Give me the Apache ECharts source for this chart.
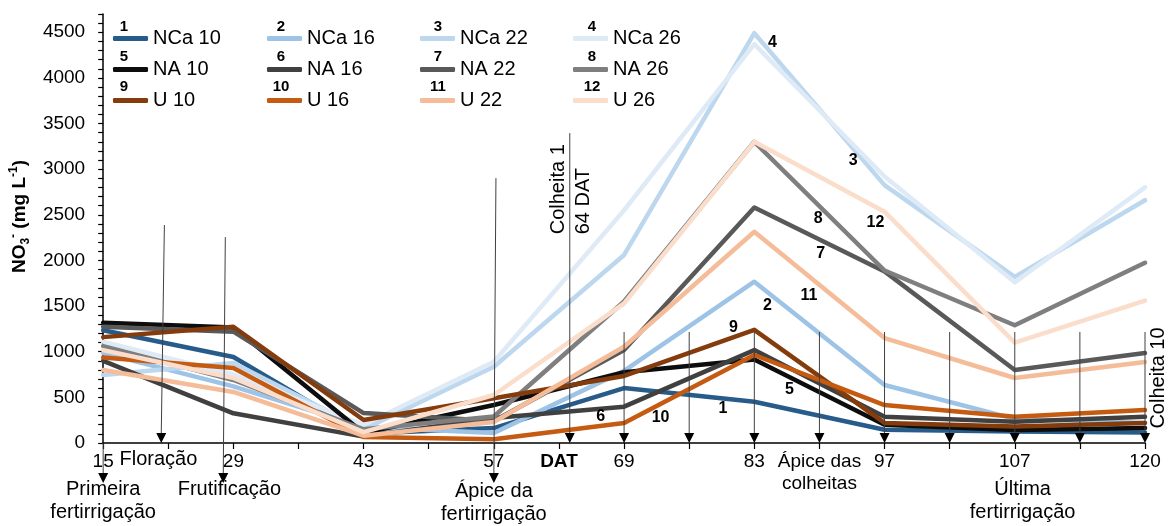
<!DOCTYPE html>
<html>
<head>
<meta charset="utf-8">
<script src="https://cdn.jsdelivr.net/npm/echarts@6/dist/echarts.min.js"></script>
<style>
html,body{margin:0;padding:0;background:#fff;}
#chart{width:1173px;height:526px;}
</style>
</head>
<body>
<div id="chart"></div>
<script>
// days after transplanting (DAT), one value per sampling date
var days=['15','29','43','57','69','83','97','107','120'];

var nca10=[1235,942,100,164,602,452,145,125,115];
var nca16=[985,620,175,110,790,1767,635,265,220];
var nca22=[745,876,150,836,2060,4490,2825,1820,2660];
var nca26=[1110,750,200,890,2550,4370,2920,1760,2800];
var na10=[1318,1265,110,416,775,915,200,142,165];
var na16=[900,325,70,274,398,1018,288,234,288];
var na22=[1274,1220,328,240,1018,2580,1880,800,985];
var na26=[1062,690,150,290,1550,3300,1890,1290,1975];
var u10=[1160,1274,252,490,735,1240,220,180,220];
var u16=[938,821,66,40,220,964,416,288,361];
var u22=[800,559,80,230,1055,2314,1150,712,887];
var u26=[1018,712,120,526,1530,3300,2534,1099,1560];

var seriesNames=['NCa 10','NCa 16','NCa 22','NCa 26','NA 10','NA 16','NA 22','NA 26','U 10','U 16','U 22','U 26'];
var seriesValues=[nca10,nca16,nca22,nca26,na10,na16,na22,na26,u10,u16,u22,u26];
var colors=['#275B8A','#9DC3E6','#BDD7EE','#DEEBF7','#0D0D0D','#404040','#595959','#7F7F7F','#843C0C','#C55A11','#F5BC99','#FADDCB'];

// number tags on the lines: [text, x (category index), y (mg/L)]
var lineTags=[['4',5.14,4392],['3',5.76,3090],['12',5.93,2410],['8',5.49,2464],['7',5.51,2070],
  ['11',5.42,1620],['2',5.10,1500],['9',4.84,1260],['5',5.27,580],['1',4.76,380],['6',3.82,285],['10',4.28,274]];

// arrows: [x top, y top, x tip, y tip] in axis units
var arrows=[[0,0,0,-438],[0.47,2388,0.446,0],[0.938,2256,0.922,-438],[3.016,2902,3,-438],[3.583,3395,3.583,0],
  [4,1216,4,0],[4.5,1216,4.5,0],[5,1216,5,0],[5.5,1216,5.5,0],[6,1216,6,0],[6.5,1216,6.5,0],[7,1216,7,0],[7.5,1216,7.5,0],[8,1216,8,0]];

var font='"Liberation Sans", Arial, sans-serif';

var chart=echarts.init(document.getElementById('chart'));

var series=seriesNames.map(function(n,k){
    return {
        name:n,type:'line',symbol:'none',showSymbol:false,
        color:colors[k],
        lineStyle:{width:4.5,color:colors[k],cap:'round',join:'round'},
        itemStyle:{color:colors[k]},
        data:seriesValues[k].map(function(v,i){return [i,v];})
    };
});

var legendCols=[[0,4,8],[1,5,9],[2,6,10],[3,7,11]];
var legendLeft=[113,267,420,573];
var legends=legendCols.map(function(c,k){
    return {
        orient:'vertical',left:legendLeft[k],top:28,padding:0,itemGap:10,
        itemWidth:35,itemHeight:5,icon:'roundRect',selectedMode:false,
        itemStyle:{borderWidth:0},
        data:c.map(function(i){return seriesNames[i];}),
        textStyle:{fontSize:20,lineHeight:21,color:'#000',fontFamily:font}
    };
});

var option={
    animation:false,
    backgroundColor:'#fff',
    grid:{left:101.7,right:28,top:14,bottom:83},
    legend:legends,
    xAxis:{
        type:'value',min:0,max:8,interval:0.5,
        axisLine:{show:true,onZero:false,lineStyle:{color:'#000',width:1.5}},
        axisTick:{show:true,length:6,lineStyle:{color:'#000',width:1.2}},
        splitLine:{show:false},
        axisLabel:{
            fontSize:19,color:'#000',fontFamily:font,margin:8,lineHeight:22,
            formatter:function(v){
                var r=Math.round(v);
                if(Math.abs(v-r)<1e-6) return days[r];
                if(Math.abs(v-3.5)<1e-6) return '{b|DAT}';
                if(Math.abs(v-5.5)<1e-6) return 'Ápice das\ncolheitas';
                return '';
            },
            rich:{b:{fontWeight:'bold',fontSize:19,fontFamily:font,color:'#000'}}
        }
    },
    yAxis:{
        type:'value',min:0,max:4700,interval:100,
        name:'{a|NO}{sub|3}{sup|-}{a| (mg L}{sup|-1}{a|)}',
        nameLocation:'middle',nameRotate:90,nameGap:68,
        nameTextStyle:{
            fontWeight:'bold',fontSize:19,color:'#000',fontFamily:font,padding:[0,0,0,24],
            rich:{
                a:{fontSize:19,fontWeight:'bold',lineHeight:24,fontFamily:font,color:'#000'},
                sub:{fontSize:12,fontWeight:'bold',lineHeight:12,verticalAlign:'bottom',fontFamily:font,color:'#000'},
                sup:{fontSize:12,fontWeight:'bold',lineHeight:12,verticalAlign:'top',fontFamily:font,color:'#000'}
            }
        },
        axisLine:{show:true,lineStyle:{color:'#000',width:1.5}},
        axisTick:{show:true,length:5,lineStyle:{color:'#000',width:1.2}},
        splitLine:{show:false},
        axisLabel:{
            fontSize:19,color:'#000',fontFamily:font,margin:18,
            formatter:function(v){return v%500===0?String(v):'';}
        }
    },
    series:series
};
chart.setOption(option);

function px(i,v){return chart.convertToPixel({xAxisIndex:0,yAxisIndex:0},[i,v]);}

var g=[];
arrows.forEach(function(a){
    var p1=px(a[0],a[1]),p2=px(a[2],a[3]);
    g.push({type:'line',z:100,shape:{x1:p1[0],y1:p1[1],x2:p2[0],y2:p2[1]-8},style:{stroke:'#404040',lineWidth:1}});
    g.push({type:'polygon',z:101,shape:{points:[[p2[0]-5,p2[1]-10],[p2[0]+5,p2[1]-10],[p2[0],p2[1]]]},style:{fill:'#000'}});
});

lineTags.forEach(function(t){
    var p=px(t[1],t[2]);
    g.push({type:'text',z:102,x:p[0],y:p[1],style:{text:t[0],fontSize:16,fontWeight:'bold',fontFamily:font,fill:'#000',align:'center',verticalAlign:'middle'}});
});

// numbers over the legend swatches
var legendNumX=[124,281,438,592],legendNumY=[27,57,87];
legendCols.forEach(function(c,k){
    c.forEach(function(si,r){
        g.push({type:'text',z:102,x:legendNumX[k],y:legendNumY[r],style:{text:String(si+1),fontSize:15,fontWeight:'bold',fontFamily:font,fill:'#000',align:'center',verticalAlign:'middle'}});
    });
});

// stage notes under the axis: [text, x index, top pixel]
var notes=[['Floração',0.424,448],['Primeira\nfertirrigação',0,478],['Frutificação',0.969,478],
  ['Ápice da\nfertirrigação',3,480],['Última\nfertirrigação',7.06,478]];
notes.forEach(function(n){
    var p=px(n[1],0);
    g.push({type:'text',z:102,x:p[0],y:n[2],style:{text:n[0],fontSize:20,lineHeight:23,fontFamily:font,fill:'#000',align:'center',verticalAlign:'top'}});
});

// rotated notes: [text, x index, y value]
var vnotes=[['Colheita 1',3.50,2780],['64 DAT',3.685,2650],['Colheita 10',8.10,712]];
vnotes.forEach(function(n){
    var p=px(n[1],n[2]);
    g.push({type:'text',z:102,x:p[0],y:p[1],rotation:Math.PI/2,style:{text:n[0],fontSize:20,fontFamily:font,fill:'#000',align:'center',verticalAlign:'middle'}});
});

chart.setOption({graphic:g});
</script>
</body>
</html>
